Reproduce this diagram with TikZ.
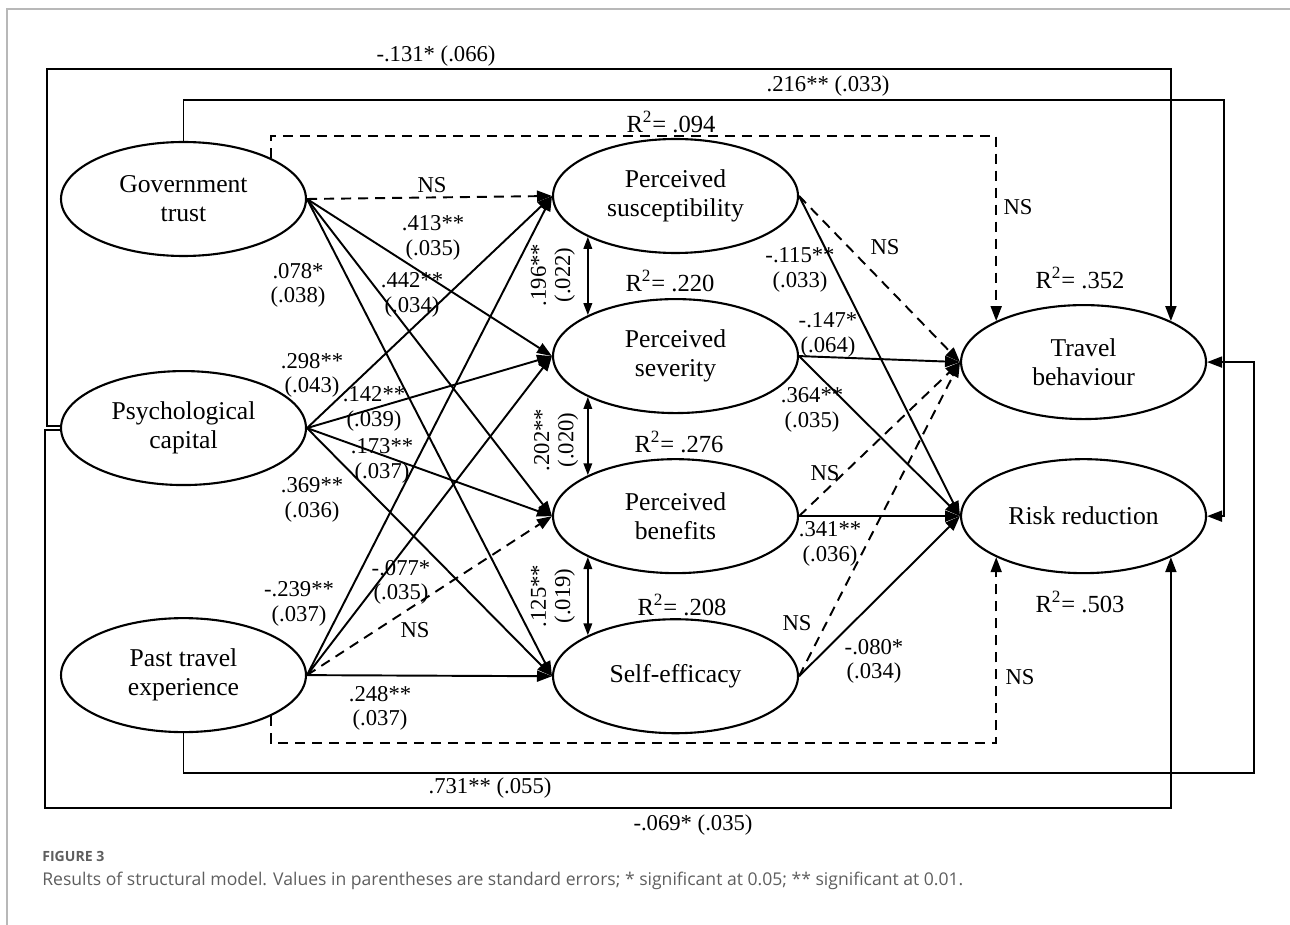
\documentclass[tikz,border=0pt]{standalone}
\usepackage{fontspec}
\setmainfont{Liberation Serif}
\newfontfamily\capfont{Open Sans}
\usepackage{tikz}
\usetikzlibrary{arrows.meta,positioning,shapes.geometric}
\definecolor{CapGray}{HTML}{5E5E5E}
\definecolor{FrameGray}{HTML}{B8B8B8}

\begin{document}
\begin{tikzpicture}[
    x=0.02cm, y=-0.02cm,
    latent/.style={ellipse, draw, line width=1.2pt, align=center, inner sep=1pt, minimum width=4.9cm, minimum height=2.28cm, font=\fontsize{14.6}{16.5}\selectfont},
    coef/.style={align=center, inner sep=0pt, font=\fontsize{12.9}{13.8}\selectfont},
    rsq/.style={inner sep=0pt, font=\fontsize{14}{16}\selectfont},
    effect/.style={-{Triangle[length=0.3cm, width=0.22cm]}, line width=1.1pt},
    nseffect/.style={effect, dash pattern=on 0.2cm off 0.14cm},
    corr/.style={{Triangle[length=0.24cm, width=0.17cm]}-{Triangle[length=0.24cm, width=0.17cm]}, line width=1.1pt}
]
\useasboundingbox (0,0) rectangle (1290,925);
\draw[FrameGray, line width=0.8pt] (7,925) -- (7,9) -- (1290,9);

\node[latent] (gov) at (183.5,199) {Government\\trust};
\node[latent, below=2.26cm of gov] (psycap) {Psychological\\capital};
\node[latent, below=2.62cm of psycap] (past) {Past travel\\experience};

\node[latent, right=4.9cm of gov, yshift=0.06cm] (susc) {Perceived\\susceptibility};
\node[latent, below=0.88cm of susc] (sever) {Perceived\\severity};
\node[latent, below=0.88cm of sever] (benef) {Perceived\\benefits};
\node[latent, below=0.88cm of benef] (selfeff) {Self-efficacy};

\node[latent, right=3.22cm of sever, yshift=-0.12cm] (travel) {Travel\\behaviour};
\node[latent, right=3.22cm of benef] (riskred) {Risk reduction};

\draw[nseffect] (gov.east) -- (susc.west);
\draw[effect] (gov.east) -- (sever.west);
\draw[effect] (gov.east) -- (benef.west);
\draw[effect] (gov.east) -- (selfeff.west);
\draw[effect] (psycap.east) -- (susc.west);
\draw[effect] (psycap.east) -- (sever.west);
\draw[effect] (psycap.east) -- (benef.west);
\draw[effect] (psycap.east) -- (selfeff.west);
\draw[effect] (past.east) -- (susc.west);
\draw[effect] (past.east) -- (sever.west);
\draw[nseffect] (past.east) -- (benef.west);
\draw[effect] (past.east) -- (selfeff.west);

\draw[nseffect] (susc.east) -- (travel.west);
\draw[effect] (susc.east) -- (riskred.west);
\draw[effect] (sever.east) -- (travel.west);
\draw[effect] (sever.east) -- (riskred.west);
\draw[nseffect] (benef.east) -- (travel.west);
\draw[effect] (benef.east) -- (riskred.west);
\draw[nseffect] (selfeff.east) -- (travel.west);
\draw[effect] (selfeff.east) -- (riskred.west);

\draw[corr] (susc.205) -- (sever.155);
\draw[corr] (sever.205) -- (benef.155);
\draw[corr] (benef.205) -- (selfeff.155);

\draw[effect] (psycap.179) -| (47,69) -| (travel.north east);
\draw[effect] (gov.north) |- (1224,100) |- (riskred.east);
\draw[nseffect] (gov.north east) |- (600,136) -| (travel.north west);
\draw[effect] (past.south) |- (1254,773) |- (travel.east);
\draw[nseffect] (past.south east) |- (600,743) -| (riskred.south west);
\draw[effect] (psycap.181) -| (45,808) -| (riskred.south east);

\node[coef] (c-top) at (436,56) {-.131* (.066)};
\node[coef] (c-gr) at (828,86) {.216** (.033)};
\node[coef] (c-ptb) at (490,788) {.731** (.055)};
\node[coef] (c-prr) at (693,825) {-.069* (.035)};
\node[coef] (c-gtb) at (1018,207) {NS};
\node[coef] (c-perr) at (1020,677) {NS};

\node[coef] (c-gs) at (432,185) {NS};
\node[coef] (c-gsev) at (433,238) {.413**\\(.035)};
\node[coef] (c-gb) at (412,295) {.442**\\(.034)};
\node[coef] (c-ge) at (298,285) {.078*\\(.038)};
\node[coef] (c-ps) at (312,375) {.298**\\(.043)};
\node[coef] (c-psev) at (374,409) {.142**\\(.039)};
\node[coef] (c-pb) at (382,461) {.173**\\(.037)};
\node[coef] (c-pe) at (312,500) {.369**\\(.036)};
\node[coef] (c-es) at (299,604) {-.239**\\(.037)};
\node[coef] (c-esev) at (401,582) {-.077*\\(.035)};
\node[coef] (c-eb) at (415,630) {NS};
\node[coef] (c-ee) at (380,708) {.248**\\(.037)};

\node[coef] (c-st) at (885,247) {NS};
\node[coef] (c-sr) at (800,270) {-.115**\\(.033)};
\node[coef] (c-sevt) at (828,335) {-.147*\\(.064)};
\node[coef] (c-sevr) at (812,410) {.364**\\(.035)};
\node[coef] (c-bt) at (825,473) {NS};
\node[coef] (c-br) at (830,544) {.341**\\(.036)};
\node[coef] (c-et) at (797,623) {NS};
\node[coef] (c-er) at (874,661) {-.080*\\(.034)};

\node[coef, rotate=90] (k-1) at (553,275) {.196**\\(.022)};
\node[coef, rotate=90] (k-2) at (556,440) {.202**\\(.020)};
\node[coef, rotate=90] (k-3) at (553,596) {.125**\\(.019)};

\node[rsq] (r-susc) at (671,122) {R\textsuperscript{2}= .094};
\node[rsq] (r-sever) at (670,281) {R\textsuperscript{2}= .220};
\node[rsq] (r-benef) at (679,442) {R\textsuperscript{2}= .276};
\node[rsq] (r-self) at (682,605) {R\textsuperscript{2}= .208};
\node[rsq] (r-travel) at (1080,278) {R\textsuperscript{2}= .352};
\node[rsq] (r-risk) at (1080,602) {R\textsuperscript{2}= .503};

\node[anchor=west, inner sep=0pt, text=CapGray, font=\capfont\bfseries\fontsize{8}{9}\selectfont] (figlabel) at (42,856) {FIGURE 3};
\node[anchor=west, inner sep=0pt, text=CapGray, font=\capfont\fontsize{10}{12}\selectfont] (caption) at (42,881) {Results of structural model. Values in parentheses are standard errors; * significant at 0.05; ** significant at 0.01.};
\end{tikzpicture}
\end{document}
